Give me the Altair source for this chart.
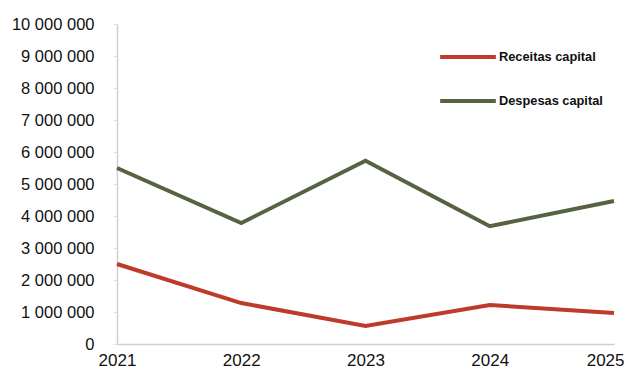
import altair as alt
import pandas as pd

years = ["2021", "2022", "2023", "2024", "2025"]
receitas = [2500000, 1280000, 560000, 1220000, 970000]
despesas = [5500000, 3780000, 5730000, 3680000, 4470000]
series_names = ["Receitas capital", "Despesas capital"]
series_colors = ["#BE3A2A", "#566343"]

rows = []
for name, vals in zip(series_names, [receitas, despesas]):
    for y, v in zip(years, vals):
        rows.append({"Ano": y, "Valor": v, "Série": name})
df = pd.DataFrame(rows)

FONT = "Liberation Sans"
last_year = years[-1]

chart = alt.Chart(df).mark_line(strokeWidth=4).encode(
    x=alt.X("Ano:O", scale=alt.Scale(type="point", padding=0),
            axis=alt.Axis(title=None, labelAngle=0, labelFontSize=17, labelFont=FONT,
                          labelColor="#111", ticks=False, labelPadding=8,
                          labelAlign={"condition": {"test": f"datum.value == '{last_year}'", "value": "right"}, "value": "center"},
                          labelOffset={"condition": {"test": f"datum.value == '{last_year}'", "value": 10}, "value": 0},
                          domainColor="#d0d0d0", domainWidth=1.5)),
    y=alt.Y("Valor:Q", scale=alt.Scale(domain=[0, 10000000], nice=False),
            axis=alt.Axis(title=None, values=list(range(0, 10000001, 1000000)),
                          labelExpr="replace(format(datum.value, ',d'), /,/g, ' ')",
                          labelFontSize=16.5, labelFont=FONT, labelColor="#111",
                          tickSize=4, tickColor="#e0e0e0", labelPadding=19,
                          domainColor="#d0d0d0", domainWidth=1.5, grid=False)),
    color=alt.Color("Série:N", scale=alt.Scale(domain=series_names, range=series_colors),
                    legend=alt.Legend(title=None, orient="none", legendX=321, legendY=3,
                                      symbolType="stroke", symbolSize=3100,
                                      symbolStrokeWidth=4, labelFont=FONT,
                                      labelFontSize=12.8, labelColor="#111",
                                      labelFontWeight="bold", rowPadding=6,
                                      labelOffset=1)),
).properties(
    width=497, height=320,
    padding={"top": 8, "left": 3, "right": 0, "bottom": 0},
).configure_view(stroke=None)

chart.save("out.html", embed_options={"renderer": "svg", "actions": False})
